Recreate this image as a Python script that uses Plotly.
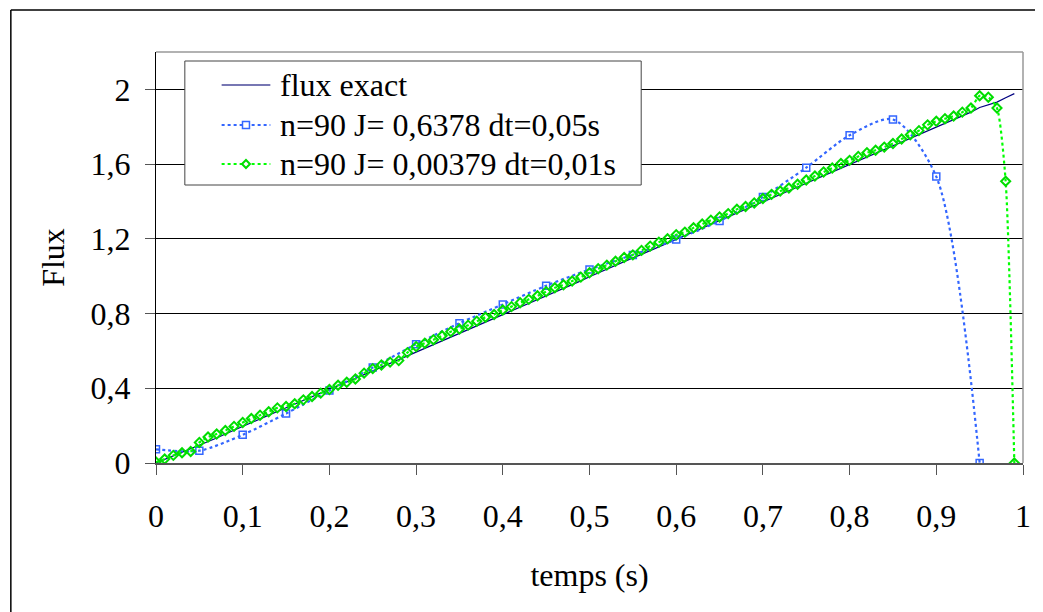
import plotly.graph_objects as go

# ---- data ----
t_fine = [round(i * 0.01, 2) for i in range(100)]
flux_exact = [0.000, 0.019, 0.038, 0.056, 0.074, 0.093, 0.114, 0.134, 0.155, 0.176,
              0.197, 0.217, 0.236, 0.256, 0.276, 0.296, 0.316, 0.337, 0.358, 0.378,
              0.397, 0.416, 0.434, 0.453, 0.473, 0.493, 0.513, 0.532, 0.552, 0.572,
              0.593, 0.613, 0.634, 0.654, 0.674, 0.694, 0.713, 0.733, 0.753, 0.774,
              0.795, 0.815, 0.834, 0.854, 0.874, 0.894, 0.914, 0.934, 0.954, 0.975,
              0.997, 1.018, 1.038, 1.058, 1.078, 1.098, 1.117, 1.137, 1.157, 1.177,
              1.198, 1.218, 1.238, 1.258, 1.279, 1.299, 1.319, 1.339, 1.358, 1.378,
              1.398, 1.418, 1.438, 1.458, 1.478, 1.498, 1.518, 1.538, 1.558, 1.578,
              1.598, 1.618, 1.638, 1.658, 1.678, 1.698, 1.718, 1.738, 1.758, 1.778,
              1.798, 1.818, 1.838, 1.858, 1.878, 1.903, 1.918, 1.932, 1.955, 1.977]

t_coarse = [0.0, 0.05, 0.1, 0.15, 0.2, 0.25, 0.3, 0.35, 0.4, 0.45,
            0.5, 0.55, 0.6, 0.65, 0.7, 0.75, 0.8, 0.85, 0.9, 0.95]
flux_dt005 = [0.073, 0.066, 0.151, 0.265, 0.388, 0.511, 0.636, 0.748, 0.849, 0.949,
              1.036, 1.114, 1.197, 1.296, 1.424, 1.581, 1.754, 1.839, 1.533, 0.0]

flux_dt001 = [0.005, 0.021, 0.041, 0.055, 0.062, 0.110, 0.139, 0.155, 0.174, 0.196,
              0.217, 0.238, 0.256, 0.274, 0.295, 0.302, 0.317, 0.338, 0.356, 0.374,
              0.393, 0.416, 0.432, 0.450, 0.481, 0.505, 0.525, 0.540, 0.548, 0.591,
              0.623, 0.641, 0.660, 0.681, 0.703, 0.717, 0.738, 0.759, 0.780, 0.795,
              0.819, 0.837, 0.858, 0.876, 0.895, 0.917, 0.938, 0.954, 0.974, 0.995,
              1.018, 1.040, 1.059, 1.080, 1.100, 1.114, 1.138, 1.161, 1.182, 1.200,
              1.222, 1.236, 1.259, 1.279, 1.300, 1.317, 1.335, 1.358, 1.373, 1.392,
              1.416, 1.438, 1.456, 1.472, 1.492, 1.515, 1.536, 1.558, 1.579, 1.603,
              1.620, 1.641, 1.661, 1.674, 1.691, 1.710, 1.734, 1.757, 1.779, 1.810,
              1.829, 1.843, 1.857, 1.878, 1.900, 1.966, 1.958, 1.900, 1.508, 0.000]

x_ticks = [0, 0.1, 0.2, 0.3, 0.4, 0.5, 0.6, 0.7, 0.8, 0.9, 1]
x_ticktext = ["0", "0,1", "0,2", "0,3", "0,4", "0,5", "0,6", "0,7", "0,8", "0,9", "1"]
y_ticks = [0, 0.4, 0.8, 1.2, 1.6, 2]
y_ticktext = ["0", "0,4", "0,8", "1,2", "1,6", "2"]

names = ["flux exact", "n=90 J= 0,6378 dt=0,05s", "n=90 J= 0,00379 dt=0,01s"]
colors = ["#000080", "#3366FF", "#00FF00"]

FONT = "Liberation Serif, Times New Roman, serif"
FS = 32

# plot-area geometry in page pixels (used only to place the drawn legend box)
PL, PR, PT, PB = 156, 1028, 52, 463


def px(x):
    return (x - PL) / (PR - PL)


def py(y):
    return (PB - y) / (PB - PT)


fig = go.Figure()
fig.add_trace(go.Scatter(x=t_fine, y=flux_exact, mode="lines", name=names[0],
                         showlegend=False,
                         line=dict(color=colors[0], width=1.2)))
fig.add_trace(go.Scatter(x=t_coarse, y=flux_dt005, mode="lines+markers", name=names[1],
                         showlegend=False,
                         line=dict(color=colors[1], width=2.2, dash="dot", shape="spline", smoothing=0.8),
                         marker=dict(symbol="square-open", size=7, color=colors[1],
                                     line=dict(width=1.5, color=colors[1]))))
fig.add_trace(go.Scatter(x=t_fine, y=flux_dt001, mode="lines+markers", name=names[2],
                         showlegend=False,
                         line=dict(color=colors[2], width=2.2, dash="dot", shape="spline", smoothing=0.6),
                         marker=dict(symbol="diamond-open", size=7, color="#00DD00",
                                     line=dict(width=2, color="#00DD00"))))

# ---- legend drawn as box + samples + text ----
box_l, box_r, box_t, box_b = 185, 644, 61, 185
rows = [85, 125, 164]
samp_l, samp_r, text_x = 222, 271, 279
shapes = [
    # plot frame (top / right light gray)
    dict(type="line", xref="paper", yref="paper", x0=0, x1=1, y0=1, y1=1,
         line=dict(color="#999", width=1.5)),
    dict(type="line", xref="paper", yref="paper", x0=1, x1=1, y0=0, y1=1,
         line=dict(color="#999", width=1.5)),
    # outer chart frame
    dict(type="line", xref="paper", yref="paper", x0=px(10), x1=1.2, y0=py(10), y1=py(10),
         line=dict(color="black", width=1.5)),
    dict(type="line", xref="paper", yref="paper", x0=px(10), x1=px(10), y0=-0.4, y1=py(10),
         line=dict(color="black", width=1.5)),
    # legend box
    dict(type="rect", xref="paper", yref="paper", x0=px(box_l), x1=px(box_r),
         y0=py(box_b), y1=py(box_t), fillcolor="white", line=dict(color="#444", width=1)),
    dict(type="line", xref="paper", yref="paper", x0=px(samp_l), x1=px(samp_r),
         y0=py(rows[0]), y1=py(rows[0]), line=dict(color="#4a4a9a", width=1.5)),
    dict(type="line", xref="paper", yref="paper", x0=px(samp_l), x1=px(samp_r),
         y0=py(rows[1]), y1=py(rows[1]), line=dict(color=colors[1], width=2.2, dash="dot")),
    dict(type="line", xref="paper", yref="paper", x0=px(samp_l), x1=px(samp_r),
         y0=py(rows[2]), y1=py(rows[2]), line=dict(color=colors[2], width=2.2, dash="dot")),
]
cx = (samp_l + samp_r) / 2
# square marker sample
shapes.append(dict(type="rect", xref="paper", yref="paper",
                   x0=px(cx - 3.5), x1=px(cx + 3.5), y0=py(rows[1] + 3.5), y1=py(rows[1] - 3.5),
                   fillcolor="white", line=dict(color=colors[1], width=1.5)))
# diamond marker sample
d = 4
shapes.append(dict(type="path", xref="paper", yref="paper",
                   path=(f"M{px(cx - d)},{py(rows[2])} L{px(cx)},{py(rows[2] - d)} "
                         f"L{px(cx + d)},{py(rows[2])} L{px(cx)},{py(rows[2] + d)} Z"),
                   fillcolor="white", line=dict(color="#00DD00", width=2)))

annotations = [
    dict(xref="paper", yref="paper", x=px(text_x), y=py(r), text=n, showarrow=False,
         xanchor="left", yanchor="middle", font=dict(family=FONT, size=FS, color="black"))
    for n, r in zip(names, rows)
]

fig.update_layout(
    width=1035, height=604,
    margin=dict(l=148, r=15, t=44, b=149),
    paper_bgcolor="white", plot_bgcolor="white",
    font=dict(family=FONT, size=FS, color="black"),
    showlegend=False,
    xaxis=dict(range=[0, 1], tickvals=x_ticks, ticktext=x_ticktext,
               showgrid=False, zeroline=False,
               showline=True, linecolor="#555", linewidth=2,
               ticks="outside", ticklen=10, tickcolor="#555", tickwidth=1,
               ticklabelstandoff=14,
               title=dict(text="temps (s)", font=dict(family=FONT, size=FS), standoff=30)),
    yaxis=dict(range=[0, 2.2], tickvals=y_ticks, ticktext=y_ticktext,
               showgrid=True, gridcolor="black", gridwidth=1, zeroline=False,
               showline=True, linecolor="black", linewidth=1,
               ticks="outside", ticklen=10, tickcolor="#555", tickwidth=1,
               ticklabelstandoff=8,
               title=dict(text="Flux", font=dict(family=FONT, size=FS), standoff=16)),
    shapes=shapes,
    annotations=annotations,
)

fig.write_html("out.html")
